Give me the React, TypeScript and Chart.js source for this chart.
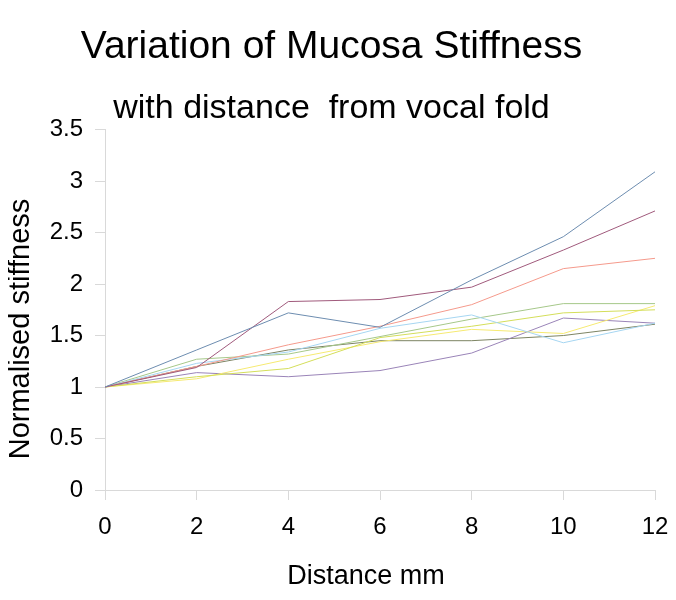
import React, { useEffect, useRef } from "react";
import { Chart, registerables } from "chart.js";

Chart.register(...registerables);

const distances = [0, 2, 4, 6, 8, 10, 12];
const steelBlue = [1, 1.36, 1.72, 1.58, 2.04, 2.46, 3.09];
const mauve = [1, 1.19, 1.83, 1.85, 1.97, 2.33, 2.71];
const salmon = [1, 1.2, 1.41, 1.59, 1.8, 2.15, 2.25];
const lightBlue = [1, 1.23, 1.34, 1.57, 1.7, 1.43, 1.62];
const green = [1, 1.27, 1.32, 1.49, 1.66, 1.81, 1.81];
const yellowGreen = [1, 1.1, 1.18, 1.48, 1.59, 1.72, 1.75];
const yellow = [1, 1.08, 1.27, 1.44, 1.56, 1.52, 1.79];
const lavender = [1, 1.14, 1.1, 1.16, 1.33, 1.67, 1.62];
const olive = [1, 1.2, 1.36, 1.45, 1.45, 1.5, 1.61];

const seriesList = [
  { name: "S1", values: steelBlue, color: "#6d8db0" },
  { name: "S2", values: mauve, color: "#a05a7c" },
  { name: "S3", values: salmon, color: "#f59a8c" },
  { name: "S4", values: lightBlue, color: "#a6d6f2" },
  { name: "S5", values: green, color: "#a6c88a" },
  { name: "S6", values: yellowGreen, color: "#d4de5a" },
  { name: "S7", values: yellow, color: "#f6ea72" },
  { name: "S8", values: lavender, color: "#9a84b8" },
  { name: "S9", values: olive, color: "#7d8463" },
];

const titleText = "Variation of Mucosa Stiffness";
const subtitleText = "with distance  from vocal fold";
const xTitle = "Distance mm";
const yTitle = "Normalised stiffness";

const FONT = "'Liberation Sans', Arial, sans-serif";

const axisTitles = {
  id: "axisTitles",
  afterDraw(chart: any) {
    const ctx = chart.ctx;
    ctx.save();
    ctx.fillStyle = "#000";
    ctx.textAlign = "center";
    ctx.textBaseline = "middle";
    ctx.font = `27px ${FONT}`;
    ctx.fillText(xTitle, 358, 569);
    ctx.translate(13, 321);
    ctx.rotate(-Math.PI / 2);
    ctx.font = `29px ${FONT}`;
    ctx.fillText(yTitle, 0, 0);
    ctx.restore();
  },
};

export default function App() {
  const ref = useRef<HTMLCanvasElement>(null);
  useEffect(() => {
    if (!ref.current) return;
    const chart = new Chart(ref.current, {
      type: "line",
      data: {
        datasets: seriesList.map((s) => ({
          label: s.name,
          data: distances.map((d, i) => ({ x: d, y: s.values[i] })),
          borderColor: s.color,
          backgroundColor: s.color,
          borderWidth: 1,
          pointRadius: 0,
          tension: 0,
          fill: false,
        })),
      },
      plugins: [axisTitles],
      options: {
        animation: false,
        responsive: false,
        layout: { padding: { right: 13, left: 0, top: 0, bottom: 0 } },
        plugins: {
          legend: { display: false },
          tooltip: { enabled: false },
          title: {
            display: true,
            text: titleText,
            color: "#000",
            font: { family: FONT, size: 39, weight: "normal" },
            padding: { top: 16, bottom: 0 },
          },
          subtitle: {
            display: true,
            text: subtitleText,
            color: "#000",
            font: { family: FONT, size: 34, weight: "normal" },
            padding: { top: 17, bottom: 1 },
          },
        },
        scales: {
          x: {
            type: "linear",
            min: 0,
            max: 12,
            ticks: {
              stepSize: 2,
              color: "#000",
              font: { family: FONT, size: 24 },
              padding: 13,
            },
            grid: {
              drawOnChartArea: false,
              drawTicks: true,
              tickLength: 10,
              color: "#d9d9d9",
            },
            border: { display: true, color: "#d9d9d9" },
            afterFit: (scale: any) => {
              scale.height = 102;
              scale.paddingLeft = 0;
              scale.paddingRight = 0;
            },
          },
          y: {
            type: "linear",
            min: 0,
            max: 3.5,
            ticks: {
              stepSize: 0.5,
              color: "#000",
              font: { family: FONT, size: 24 },
              padding: 12,
              callback: (v: any) => String(v),
            },
            grid: {
              drawOnChartArea: false,
              drawTicks: true,
              tickLength: 10,
              color: "#d9d9d9",
            },
            border: { display: true, color: "#d9d9d9" },
            afterFit: (scale: any) => {
              scale.width = 97;
            },
          },
        },
      },
    });
    return () => chart.destroy();
  }, []);
  return (
    <div style={{ background: "#fff" }}>
      <canvas ref={ref} width={660} height={584} style={{ display: "block" }} />
    </div>
  );
}
